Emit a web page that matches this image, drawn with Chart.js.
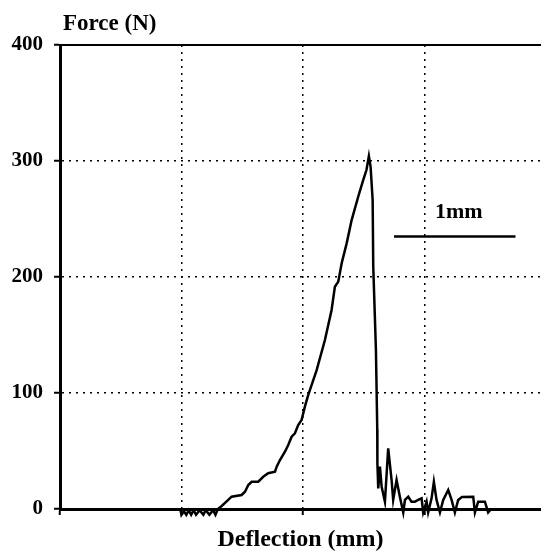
<!DOCTYPE html>
<html>
<head>
<meta charset="utf-8">
<script src="https://cdn.jsdelivr.net/npm/chart.js@4"></script>
<style>
html,body{margin:0;padding:0;background:#fff;}
#wrap{width:541px;height:551px;position:relative;}
</style>
</head>
<body>
<div id="wrap"><canvas id="chart"></canvas></div>
<script>
// force / deflection curve
const deflection = [
  0.99, 1.00, 1.02, 1.04, 1.06, 1.08, 1.10, 1.12, 1.15, 1.18, 1.20, 1.23, 1.26, 1.28, 1.30,
  1.331, 1.385, 1.413, 1.495, 1.523, 1.550, 1.578, 1.632, 1.673, 1.714, 1.770, 1.784, 1.811,
  1.852, 1.879, 1.907, 1.934, 1.961, 1.989, 2.016, 2.044, 2.113, 2.181, 2.236, 2.263, 2.291,
  2.319, 2.360, 2.401, 2.455, 2.496, 2.523, 2.543, 2.557, 2.574, 2.579, 2.601, 2.612, 2.613,
  2.620, 2.634, 2.648, 2.675, 2.702, 2.730, 2.743, 2.771, 2.798, 2.826, 2.840, 2.867, 2.894,
  2.922, 2.949, 2.977, 2.990, 3.018, 3.031, 3.059, 3.078, 3.100, 3.128, 3.155, 3.196, 3.224,
  3.251, 3.278, 3.309, 3.402, 3.416, 3.443, 3.498, 3.525, 3.55
];
const force = [
  0, -5, -2, -5, -1, -5, -1, -5, -1, -5, -1, -5, -1, -5, 0,
  2.6, 7.8, 10.6, 12.1, 14.9, 20.7, 23.5, 23.5, 27.8, 30.8, 32.2, 36.5, 42.2,
  49.4, 55.2, 62.3, 65.3, 72.4, 76.7, 88.2, 98.3, 119.8, 145.7, 171.6, 191.6, 196,
  211.8, 229, 249.1, 269.2, 283.6, 292.2, 304.3, 295.1, 266.4, 208.9, 137.1, 68.1, 39.7,
  17.8, 36.5, 19.2, 6.3, 52.3, 25, 7.8, 25, 10.6, -3, 7.8, 10.6, 6.3,
  6.3, 7.8, 9.2, -3, 6.3, -3, 9.2, 23.5, 7.8, -3, 7.8, 16.4, 7.8,
  -3, 7.8, 10.3, 10.6, -3, 6.3, 6.3, -3, 0
];
const forceTicks = [0, 100, 200, 300, 400];
const deflectionTicks = [0, 1, 2, 3];
const scaleBarX = [2.75, 3.75];
const scaleBarY = [235, 235];
const scaleBarLabel = "1mm";
const xTitle = "Deflection (mm)";
const yTitle = "Force (N)";

const serif = "'Liberation Serif', 'Times New Roman', serif";

const extras = {
  id: "extras",
  afterDraw(chart){
    const {ctx, chartArea, scales} = chart;
    ctx.save();
    // solid frame line along the top
    ctx.strokeStyle = "#000";
    ctx.lineWidth = 2;
    ctx.beginPath();
    ctx.moveTo(chartArea.left, chartArea.top);
    ctx.lineTo(chartArea.right, chartArea.top);
    ctx.stroke();
    // axis caption at the top left
    ctx.fillStyle = "#000";
    ctx.font = "bold 23px " + serif;
    ctx.textAlign = "left";
    ctx.textBaseline = "middle";
    ctx.fillText(yTitle, 63, 24);
    // label over the scale bar
    const cx = scales.x.getPixelForValue((scaleBarX[0] + scaleBarX[1]) / 2);
    const cy = scales.y.getPixelForValue(scaleBarY[0]);
    ctx.textAlign = "center";
    ctx.font = "bold 22px " + serif;
    ctx.fillText(scaleBarLabel, cx + 4, cy - 24);
    ctx.restore();
  }
};

new Chart(document.getElementById("chart"), {
  type: "line",
  data: {
    datasets: [{
      data: deflection.map((d, i) => ({x: d, y: force[i]})),
      borderColor: "#000",
      borderWidth: 2.5,
      pointRadius: 0,
      tension: 0,
      clip: false
    }, {
      data: scaleBarX.map((d, i) => ({x: d, y: scaleBarY[i]})),
      borderColor: "#000",
      borderWidth: 2.5,
      pointRadius: 0
    }]
  },
  options: {
    responsive: true,
    maintainAspectRatio: false,
    animation: false,
    devicePixelRatio: 1,
    layout: {padding: {top: 45, right: 0, left: 0, bottom: 0}},
    plugins: {legend: {display: false}, tooltip: {enabled: false}},
    scales: {
      x: {
        type: "linear",
        min: 0,
        max: 3.96,
        afterFit: s => { s.height = 42; },
        afterBuildTicks: s => { s.ticks = deflectionTicks.map(v => ({value: v})); },
        ticks: {display: false},
        grid: {
          color: c => (c.tick && c.tick.value === 0) ? "rgba(0,0,0,0)" : "#000",
          lineWidth: 1.5,
          tickLength: 6,
          tickColor: "#000",
          tickWidth: 2,
          tickBorderDash: []
        },
        border: {color: "#000", width: 3, dash: [2, 5]},
        title: {
          display: true,
          text: xTitle,
          color: "#000",
          font: {family: serif, size: 24, weight: "bold", lineHeight: 0.9},
          padding: {top: 0, bottom: 0}
        }
      },
      y: {
        min: 0,
        max: 400,
        afterFit: s => { s.width = 60; },
        afterBuildTicks: s => { s.ticks = forceTicks.map(v => ({value: v})); },
        ticks: {color: "#000", font: {family: serif, size: 21, weight: "bold"}, padding: 11},
        grid: {
          color: c => (c.tick && (c.tick.value === 0 || c.tick.value === 400)) ? "rgba(0,0,0,0)" : "#000",
          lineWidth: 1.5,
          tickLength: 6,
          tickColor: "#000",
          tickWidth: 2,
          tickBorderDash: []
        },
        border: {color: "#000", width: 3, dash: [2, 5]}
      }
    }
  },
  plugins: [extras]
});
</script>
</body>
</html>
